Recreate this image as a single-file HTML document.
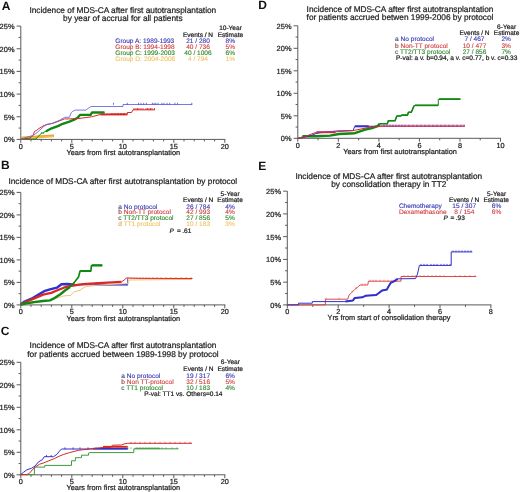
<!DOCTYPE html>
<html><head><meta charset="utf-8"><style>
html,body{margin:0;padding:0;background:#fff;width:520px;height:492px;overflow:hidden}
svg{display:block;filter:blur(0.3px)}
text{font-family:"Liberation Sans", sans-serif;text-rendering:geometricPrecision}
</style></head><body>
<svg width="520" height="492" viewBox="0 0 520 492">
<rect width="520" height="492" fill="#fff"/>
<line x1="20.80" y1="26.10" x2="20.80" y2="139.90" stroke="#5a5a5a" stroke-width="1"/>
<line x1="20.30" y1="139.40" x2="225.30" y2="139.40" stroke="#5a5a5a" stroke-width="1"/>
<line x1="16.60" y1="139.40" x2="20.80" y2="139.40" stroke="#5a5a5a" stroke-width="1"/>
<line x1="18.60" y1="128.07" x2="20.80" y2="128.07" stroke="#5a5a5a" stroke-width="1"/>
<line x1="16.60" y1="116.74" x2="20.80" y2="116.74" stroke="#5a5a5a" stroke-width="1"/>
<line x1="18.60" y1="105.41" x2="20.80" y2="105.41" stroke="#5a5a5a" stroke-width="1"/>
<line x1="16.60" y1="94.08" x2="20.80" y2="94.08" stroke="#5a5a5a" stroke-width="1"/>
<line x1="18.60" y1="82.75" x2="20.80" y2="82.75" stroke="#5a5a5a" stroke-width="1"/>
<line x1="16.60" y1="71.42" x2="20.80" y2="71.42" stroke="#5a5a5a" stroke-width="1"/>
<line x1="18.60" y1="60.09" x2="20.80" y2="60.09" stroke="#5a5a5a" stroke-width="1"/>
<line x1="16.60" y1="48.76" x2="20.80" y2="48.76" stroke="#5a5a5a" stroke-width="1"/>
<line x1="18.60" y1="37.43" x2="20.80" y2="37.43" stroke="#5a5a5a" stroke-width="1"/>
<line x1="16.60" y1="26.10" x2="20.80" y2="26.10" stroke="#5a5a5a" stroke-width="1"/>
<line x1="20.80" y1="139.40" x2="20.80" y2="142.80" stroke="#5a5a5a" stroke-width="1"/>
<line x1="31.00" y1="139.40" x2="31.00" y2="141.40" stroke="#5a5a5a" stroke-width="1"/>
<line x1="41.20" y1="139.40" x2="41.20" y2="141.40" stroke="#5a5a5a" stroke-width="1"/>
<line x1="51.40" y1="139.40" x2="51.40" y2="141.40" stroke="#5a5a5a" stroke-width="1"/>
<line x1="61.60" y1="139.40" x2="61.60" y2="141.40" stroke="#5a5a5a" stroke-width="1"/>
<line x1="71.80" y1="139.40" x2="71.80" y2="142.80" stroke="#5a5a5a" stroke-width="1"/>
<line x1="82.00" y1="139.40" x2="82.00" y2="141.40" stroke="#5a5a5a" stroke-width="1"/>
<line x1="92.20" y1="139.40" x2="92.20" y2="141.40" stroke="#5a5a5a" stroke-width="1"/>
<line x1="102.40" y1="139.40" x2="102.40" y2="141.40" stroke="#5a5a5a" stroke-width="1"/>
<line x1="112.60" y1="139.40" x2="112.60" y2="141.40" stroke="#5a5a5a" stroke-width="1"/>
<line x1="122.80" y1="139.40" x2="122.80" y2="142.80" stroke="#5a5a5a" stroke-width="1"/>
<line x1="133.00" y1="139.40" x2="133.00" y2="141.40" stroke="#5a5a5a" stroke-width="1"/>
<line x1="143.20" y1="139.40" x2="143.20" y2="141.40" stroke="#5a5a5a" stroke-width="1"/>
<line x1="153.40" y1="139.40" x2="153.40" y2="141.40" stroke="#5a5a5a" stroke-width="1"/>
<line x1="163.60" y1="139.40" x2="163.60" y2="141.40" stroke="#5a5a5a" stroke-width="1"/>
<line x1="173.80" y1="139.40" x2="173.80" y2="142.80" stroke="#5a5a5a" stroke-width="1"/>
<line x1="184.00" y1="139.40" x2="184.00" y2="141.40" stroke="#5a5a5a" stroke-width="1"/>
<line x1="194.20" y1="139.40" x2="194.20" y2="141.40" stroke="#5a5a5a" stroke-width="1"/>
<line x1="204.40" y1="139.40" x2="204.40" y2="141.40" stroke="#5a5a5a" stroke-width="1"/>
<line x1="214.60" y1="139.40" x2="214.60" y2="141.40" stroke="#5a5a5a" stroke-width="1"/>
<line x1="224.80" y1="139.40" x2="224.80" y2="142.80" stroke="#5a5a5a" stroke-width="1"/>
<line x1="20.80" y1="192.40" x2="20.80" y2="305.40" stroke="#5a5a5a" stroke-width="1"/>
<line x1="20.30" y1="304.90" x2="225.30" y2="304.90" stroke="#5a5a5a" stroke-width="1"/>
<line x1="16.60" y1="304.90" x2="20.80" y2="304.90" stroke="#5a5a5a" stroke-width="1"/>
<line x1="18.60" y1="293.65" x2="20.80" y2="293.65" stroke="#5a5a5a" stroke-width="1"/>
<line x1="16.60" y1="282.40" x2="20.80" y2="282.40" stroke="#5a5a5a" stroke-width="1"/>
<line x1="18.60" y1="271.15" x2="20.80" y2="271.15" stroke="#5a5a5a" stroke-width="1"/>
<line x1="16.60" y1="259.90" x2="20.80" y2="259.90" stroke="#5a5a5a" stroke-width="1"/>
<line x1="18.60" y1="248.65" x2="20.80" y2="248.65" stroke="#5a5a5a" stroke-width="1"/>
<line x1="16.60" y1="237.40" x2="20.80" y2="237.40" stroke="#5a5a5a" stroke-width="1"/>
<line x1="18.60" y1="226.15" x2="20.80" y2="226.15" stroke="#5a5a5a" stroke-width="1"/>
<line x1="16.60" y1="214.90" x2="20.80" y2="214.90" stroke="#5a5a5a" stroke-width="1"/>
<line x1="18.60" y1="203.65" x2="20.80" y2="203.65" stroke="#5a5a5a" stroke-width="1"/>
<line x1="16.60" y1="192.40" x2="20.80" y2="192.40" stroke="#5a5a5a" stroke-width="1"/>
<line x1="20.80" y1="304.90" x2="20.80" y2="308.30" stroke="#5a5a5a" stroke-width="1"/>
<line x1="31.00" y1="304.90" x2="31.00" y2="306.90" stroke="#5a5a5a" stroke-width="1"/>
<line x1="41.20" y1="304.90" x2="41.20" y2="306.90" stroke="#5a5a5a" stroke-width="1"/>
<line x1="51.40" y1="304.90" x2="51.40" y2="306.90" stroke="#5a5a5a" stroke-width="1"/>
<line x1="61.60" y1="304.90" x2="61.60" y2="306.90" stroke="#5a5a5a" stroke-width="1"/>
<line x1="71.80" y1="304.90" x2="71.80" y2="308.30" stroke="#5a5a5a" stroke-width="1"/>
<line x1="82.00" y1="304.90" x2="82.00" y2="306.90" stroke="#5a5a5a" stroke-width="1"/>
<line x1="92.20" y1="304.90" x2="92.20" y2="306.90" stroke="#5a5a5a" stroke-width="1"/>
<line x1="102.40" y1="304.90" x2="102.40" y2="306.90" stroke="#5a5a5a" stroke-width="1"/>
<line x1="112.60" y1="304.90" x2="112.60" y2="306.90" stroke="#5a5a5a" stroke-width="1"/>
<line x1="122.80" y1="304.90" x2="122.80" y2="308.30" stroke="#5a5a5a" stroke-width="1"/>
<line x1="133.00" y1="304.90" x2="133.00" y2="306.90" stroke="#5a5a5a" stroke-width="1"/>
<line x1="143.20" y1="304.90" x2="143.20" y2="306.90" stroke="#5a5a5a" stroke-width="1"/>
<line x1="153.40" y1="304.90" x2="153.40" y2="306.90" stroke="#5a5a5a" stroke-width="1"/>
<line x1="163.60" y1="304.90" x2="163.60" y2="306.90" stroke="#5a5a5a" stroke-width="1"/>
<line x1="173.80" y1="304.90" x2="173.80" y2="308.30" stroke="#5a5a5a" stroke-width="1"/>
<line x1="184.00" y1="304.90" x2="184.00" y2="306.90" stroke="#5a5a5a" stroke-width="1"/>
<line x1="194.20" y1="304.90" x2="194.20" y2="306.90" stroke="#5a5a5a" stroke-width="1"/>
<line x1="204.40" y1="304.90" x2="204.40" y2="306.90" stroke="#5a5a5a" stroke-width="1"/>
<line x1="214.60" y1="304.90" x2="214.60" y2="306.90" stroke="#5a5a5a" stroke-width="1"/>
<line x1="224.80" y1="304.90" x2="224.80" y2="308.30" stroke="#5a5a5a" stroke-width="1"/>
<line x1="20.80" y1="362.30" x2="20.80" y2="475.30" stroke="#5a5a5a" stroke-width="1"/>
<line x1="20.30" y1="474.80" x2="225.30" y2="474.80" stroke="#5a5a5a" stroke-width="1"/>
<line x1="16.60" y1="474.80" x2="20.80" y2="474.80" stroke="#5a5a5a" stroke-width="1"/>
<line x1="18.60" y1="463.55" x2="20.80" y2="463.55" stroke="#5a5a5a" stroke-width="1"/>
<line x1="16.60" y1="452.30" x2="20.80" y2="452.30" stroke="#5a5a5a" stroke-width="1"/>
<line x1="18.60" y1="441.05" x2="20.80" y2="441.05" stroke="#5a5a5a" stroke-width="1"/>
<line x1="16.60" y1="429.80" x2="20.80" y2="429.80" stroke="#5a5a5a" stroke-width="1"/>
<line x1="18.60" y1="418.55" x2="20.80" y2="418.55" stroke="#5a5a5a" stroke-width="1"/>
<line x1="16.60" y1="407.30" x2="20.80" y2="407.30" stroke="#5a5a5a" stroke-width="1"/>
<line x1="18.60" y1="396.05" x2="20.80" y2="396.05" stroke="#5a5a5a" stroke-width="1"/>
<line x1="16.60" y1="384.80" x2="20.80" y2="384.80" stroke="#5a5a5a" stroke-width="1"/>
<line x1="18.60" y1="373.55" x2="20.80" y2="373.55" stroke="#5a5a5a" stroke-width="1"/>
<line x1="16.60" y1="362.30" x2="20.80" y2="362.30" stroke="#5a5a5a" stroke-width="1"/>
<line x1="20.80" y1="474.80" x2="20.80" y2="478.20" stroke="#5a5a5a" stroke-width="1"/>
<line x1="31.00" y1="474.80" x2="31.00" y2="476.80" stroke="#5a5a5a" stroke-width="1"/>
<line x1="41.20" y1="474.80" x2="41.20" y2="476.80" stroke="#5a5a5a" stroke-width="1"/>
<line x1="51.40" y1="474.80" x2="51.40" y2="476.80" stroke="#5a5a5a" stroke-width="1"/>
<line x1="61.60" y1="474.80" x2="61.60" y2="476.80" stroke="#5a5a5a" stroke-width="1"/>
<line x1="71.80" y1="474.80" x2="71.80" y2="478.20" stroke="#5a5a5a" stroke-width="1"/>
<line x1="82.00" y1="474.80" x2="82.00" y2="476.80" stroke="#5a5a5a" stroke-width="1"/>
<line x1="92.20" y1="474.80" x2="92.20" y2="476.80" stroke="#5a5a5a" stroke-width="1"/>
<line x1="102.40" y1="474.80" x2="102.40" y2="476.80" stroke="#5a5a5a" stroke-width="1"/>
<line x1="112.60" y1="474.80" x2="112.60" y2="476.80" stroke="#5a5a5a" stroke-width="1"/>
<line x1="122.80" y1="474.80" x2="122.80" y2="478.20" stroke="#5a5a5a" stroke-width="1"/>
<line x1="133.00" y1="474.80" x2="133.00" y2="476.80" stroke="#5a5a5a" stroke-width="1"/>
<line x1="143.20" y1="474.80" x2="143.20" y2="476.80" stroke="#5a5a5a" stroke-width="1"/>
<line x1="153.40" y1="474.80" x2="153.40" y2="476.80" stroke="#5a5a5a" stroke-width="1"/>
<line x1="163.60" y1="474.80" x2="163.60" y2="476.80" stroke="#5a5a5a" stroke-width="1"/>
<line x1="173.80" y1="474.80" x2="173.80" y2="478.20" stroke="#5a5a5a" stroke-width="1"/>
<line x1="184.00" y1="474.80" x2="184.00" y2="476.80" stroke="#5a5a5a" stroke-width="1"/>
<line x1="194.20" y1="474.80" x2="194.20" y2="476.80" stroke="#5a5a5a" stroke-width="1"/>
<line x1="204.40" y1="474.80" x2="204.40" y2="476.80" stroke="#5a5a5a" stroke-width="1"/>
<line x1="214.60" y1="474.80" x2="214.60" y2="476.80" stroke="#5a5a5a" stroke-width="1"/>
<line x1="224.80" y1="474.80" x2="224.80" y2="478.20" stroke="#5a5a5a" stroke-width="1"/>
<line x1="297.80" y1="25.80" x2="297.80" y2="138.80" stroke="#5a5a5a" stroke-width="1"/>
<line x1="297.30" y1="138.30" x2="501.00" y2="138.30" stroke="#5a5a5a" stroke-width="1"/>
<line x1="293.60" y1="138.30" x2="297.80" y2="138.30" stroke="#5a5a5a" stroke-width="1"/>
<line x1="295.60" y1="127.05" x2="297.80" y2="127.05" stroke="#5a5a5a" stroke-width="1"/>
<line x1="293.60" y1="115.80" x2="297.80" y2="115.80" stroke="#5a5a5a" stroke-width="1"/>
<line x1="295.60" y1="104.55" x2="297.80" y2="104.55" stroke="#5a5a5a" stroke-width="1"/>
<line x1="293.60" y1="93.30" x2="297.80" y2="93.30" stroke="#5a5a5a" stroke-width="1"/>
<line x1="295.60" y1="82.05" x2="297.80" y2="82.05" stroke="#5a5a5a" stroke-width="1"/>
<line x1="293.60" y1="70.80" x2="297.80" y2="70.80" stroke="#5a5a5a" stroke-width="1"/>
<line x1="295.60" y1="59.55" x2="297.80" y2="59.55" stroke="#5a5a5a" stroke-width="1"/>
<line x1="293.60" y1="48.30" x2="297.80" y2="48.30" stroke="#5a5a5a" stroke-width="1"/>
<line x1="295.60" y1="37.05" x2="297.80" y2="37.05" stroke="#5a5a5a" stroke-width="1"/>
<line x1="293.60" y1="25.80" x2="297.80" y2="25.80" stroke="#5a5a5a" stroke-width="1"/>
<line x1="297.80" y1="138.30" x2="297.80" y2="141.70" stroke="#5a5a5a" stroke-width="1"/>
<line x1="318.07" y1="138.30" x2="318.07" y2="140.30" stroke="#5a5a5a" stroke-width="1"/>
<line x1="338.34" y1="138.30" x2="338.34" y2="141.70" stroke="#5a5a5a" stroke-width="1"/>
<line x1="358.61" y1="138.30" x2="358.61" y2="140.30" stroke="#5a5a5a" stroke-width="1"/>
<line x1="378.88" y1="138.30" x2="378.88" y2="141.70" stroke="#5a5a5a" stroke-width="1"/>
<line x1="399.15" y1="138.30" x2="399.15" y2="140.30" stroke="#5a5a5a" stroke-width="1"/>
<line x1="419.42" y1="138.30" x2="419.42" y2="141.70" stroke="#5a5a5a" stroke-width="1"/>
<line x1="439.69" y1="138.30" x2="439.69" y2="140.30" stroke="#5a5a5a" stroke-width="1"/>
<line x1="459.96" y1="138.30" x2="459.96" y2="141.70" stroke="#5a5a5a" stroke-width="1"/>
<line x1="480.23" y1="138.30" x2="480.23" y2="140.30" stroke="#5a5a5a" stroke-width="1"/>
<line x1="500.50" y1="138.30" x2="500.50" y2="141.70" stroke="#5a5a5a" stroke-width="1"/>
<line x1="287.30" y1="191.15" x2="287.30" y2="305.40" stroke="#5a5a5a" stroke-width="1"/>
<line x1="286.80" y1="304.90" x2="491.40" y2="304.90" stroke="#5a5a5a" stroke-width="1"/>
<line x1="283.10" y1="304.90" x2="287.30" y2="304.90" stroke="#5a5a5a" stroke-width="1"/>
<line x1="285.10" y1="293.52" x2="287.30" y2="293.52" stroke="#5a5a5a" stroke-width="1"/>
<line x1="283.10" y1="282.15" x2="287.30" y2="282.15" stroke="#5a5a5a" stroke-width="1"/>
<line x1="285.10" y1="270.77" x2="287.30" y2="270.77" stroke="#5a5a5a" stroke-width="1"/>
<line x1="283.10" y1="259.40" x2="287.30" y2="259.40" stroke="#5a5a5a" stroke-width="1"/>
<line x1="285.10" y1="248.02" x2="287.30" y2="248.02" stroke="#5a5a5a" stroke-width="1"/>
<line x1="283.10" y1="236.65" x2="287.30" y2="236.65" stroke="#5a5a5a" stroke-width="1"/>
<line x1="285.10" y1="225.27" x2="287.30" y2="225.27" stroke="#5a5a5a" stroke-width="1"/>
<line x1="283.10" y1="213.90" x2="287.30" y2="213.90" stroke="#5a5a5a" stroke-width="1"/>
<line x1="285.10" y1="202.52" x2="287.30" y2="202.52" stroke="#5a5a5a" stroke-width="1"/>
<line x1="283.10" y1="191.15" x2="287.30" y2="191.15" stroke="#5a5a5a" stroke-width="1"/>
<line x1="287.30" y1="304.90" x2="287.30" y2="308.30" stroke="#5a5a5a" stroke-width="1"/>
<line x1="312.75" y1="304.90" x2="312.75" y2="306.90" stroke="#5a5a5a" stroke-width="1"/>
<line x1="338.20" y1="304.90" x2="338.20" y2="308.30" stroke="#5a5a5a" stroke-width="1"/>
<line x1="363.65" y1="304.90" x2="363.65" y2="306.90" stroke="#5a5a5a" stroke-width="1"/>
<line x1="389.10" y1="304.90" x2="389.10" y2="308.30" stroke="#5a5a5a" stroke-width="1"/>
<line x1="414.55" y1="304.90" x2="414.55" y2="306.90" stroke="#5a5a5a" stroke-width="1"/>
<line x1="440.00" y1="304.90" x2="440.00" y2="308.30" stroke="#5a5a5a" stroke-width="1"/>
<line x1="465.45" y1="304.90" x2="465.45" y2="306.90" stroke="#5a5a5a" stroke-width="1"/>
<line x1="490.90" y1="304.90" x2="490.90" y2="308.30" stroke="#5a5a5a" stroke-width="1"/>
<path d="M21,136.9 L40,135.6 L54,134.7 L54,137.3 L40,138.2 L21,139.6 Z" fill="#f2b640" opacity="0.95"/>
<path d="M21.0,137.2 L40.0,135.9 L54.0,135.0" fill="none" stroke="#e89a18" stroke-width="0.9" stroke-linejoin="round" stroke-linecap="butt" opacity="0.9"/>
<path d="M20.8,139.2 L36.0,139.0 L38.0,136.5 L41.2,133.6 L46.0,131.2 L51.7,128.3 L58.5,125.9 L62.7,123.8 L69.4,121.6 L74.2,119.7 L77.6,117.8 L80.0,114.9 L90.6,114.9 L92.0,112.5 L104.5,112.5" fill="none" stroke="#118811" stroke-width="1.0" stroke-linejoin="round" stroke-linecap="butt" opacity="1.0"/>
<path d="M46.0,131.2 L51.7,128.3 L58.5,125.9 L62.7,123.8 L69.4,121.6 L74.2,119.7 L77.6,117.8 L80.0,114.9 L90.6,114.9 L92.0,112.5 L104.5,112.5" fill="none" stroke="#118811" stroke-width="2.4" stroke-linejoin="round" stroke-linecap="butt" opacity="1.0"/>
<path d="M41.5,133.9 v-1.8 M43.5,133.9 v-1.8" stroke="#2a9a5a" stroke-width="0.8" opacity="1.0"/>
<path d="M20.8,139.2 L30.0,138.0 L33.0,135.5 L34.4,131.6 L36.8,130.2 L39.0,128.5 L43.1,125.9 L46.9,124.4 L51.7,123.5 L55.0,122.6 L59.8,120.7 L64.6,118.9 L69.4,118.9 L79.0,118.5 L91.5,116.8 L100.0,114.6 L127.3,114.4 L127.3,112.5 L131.5,112.5 L133.0,109.8 L155.0,109.8" fill="none" stroke="#d82828" stroke-width="1.0" stroke-linejoin="round" stroke-linecap="butt" opacity="1.0"/>
<rect x="100.4" y="113.4" width="26.9" height="2.0" fill="#d82828" opacity="1.0"/>
<path d="M134.0,110.1 v-2.0 M136.0,110.1 v-2.0 M137.5,110.1 v-2.0 M139.0,110.1 v-2.0 M141.0,110.1 v-2.0 M143.0,110.1 v-2.0 M146.0,110.1 v-2.0 M147.5,110.1 v-2.0 M149.0,110.1 v-2.0 M150.5,110.1 v-2.0 M152.0,110.1 v-2.0 M154.5,110.1 v-2.0" stroke="#d82828" stroke-width="0.9" opacity="1.0"/>
<path d="M112.0,114.7 v-1.6 M115.0,114.7 v-1.6 M118.0,114.7 v-1.6 M121.0,114.7 v-1.6 M124.0,114.7 v-1.6" stroke="#b01010" stroke-width="0.9" opacity="1.0"/>
<path d="M20.8,139.2 L26.0,137.5 L32.5,135.5 L36.0,133.5 L39.2,130.7 L44.0,126.3 L47.0,124.6 L52.0,123.5 L55.0,122.1 L59.8,120.2 L64.6,117.3 L69.4,117.3 L71.3,112.5 L72.8,111.3 L75.2,110.1 L85.8,110.1 L89.1,107.7 L91.1,106.5 L123.0,106.5 L123.0,104.5 L192.2,104.5" fill="none" stroke="#6a6ae0" stroke-width="0.9" stroke-linejoin="round" stroke-linecap="butt" opacity="1.0"/>
<path d="M113.5,104.8 v-2.0 M127.3,104.8 v-2.0 M138.5,104.8 v-2.0 M141.0,104.8 v-2.0 M143.7,104.8 v-2.0 M146.3,104.8 v-2.0 M152.4,104.8 v-2.0 M154.1,104.8 v-2.0 M155.8,104.8 v-2.0 M158.0,104.8 v-2.0 M161.9,104.8 v-2.0 M164.0,104.8 v-2.0 M167.0,104.8 v-2.0 M169.7,104.8 v-2.0 M174.9,104.8 v-2.0 M177.5,104.8 v-2.0 M191.8,104.8 v-2.0" stroke="#4a4ad8" stroke-width="0.8" opacity="1.0"/>
<path d="M297.8,138.3 L300.5,138.0 L302.5,136.3 L316.5,136.3 L330.0,135.6 L339.0,134.0 L354.8,133.2 L360.0,131.4 L365.2,129.7 L372.1,128.0 L377.7,126.2 L379.6,123.7 L387.3,123.7 L388.3,120.8 L395.0,120.8 L396.9,116.0 L400.8,116.0 L401.7,115.1 L407.5,115.1 L408.5,112.2 L411.3,112.2 L414.2,105.5 L438.3,105.5 L438.3,99.3 L460.4,99.3" fill="none" stroke="#118811" stroke-width="1.0" stroke-linejoin="round" stroke-linecap="butt" opacity="1.0"/>
<path d="M302.5,136.3 L316.5,136.3 L330.0,135.6 L339.0,134.0 L354.8,133.2 L360.0,131.4 L365.2,129.7 L372.1,128.0 L377.7,126.2 L379.6,123.7" fill="none" stroke="#118811" stroke-width="2.4" stroke-linejoin="round" stroke-linecap="butt" opacity="1.0"/>
<path d="M379.6,123.7 L387.3,123.7 L388.3,120.8 L395.0,120.8 L396.9,116.0 L400.8,116.0 L401.7,115.1 L407.5,115.1 L408.5,112.2 L411.3,112.2 L414.2,105.5" fill="none" stroke="#118811" stroke-width="1.6" stroke-linejoin="round" stroke-linecap="butt" opacity="1.0"/>
<rect x="415.0" y="104.4" width="23.0" height="1.8" fill="#118811" opacity="1.0"/>
<rect x="439.0" y="98.2" width="21.4" height="1.8" fill="#118811" opacity="1.0"/>
<path d="M297.8,138.3 L303.0,137.5 L311.0,135.5 L316.0,133.6 L320.0,132.8 L337.3,130.9 L353.1,130.6 L354.8,126.3 L380.0,126.2 L460.0,126.2" fill="none" stroke="#3030cc" stroke-width="1.0" stroke-linejoin="round" stroke-linecap="butt" opacity="1.0"/>
<rect x="354.8" y="125.3" width="13.9" height="2.0" fill="#3030cc" opacity="1.0"/>
<path d="M297.8,138.3 L303.0,137.6 L311.4,134.0 L316.7,132.2 L335.4,132.2 L337.3,131.6 L353.0,130.6 L370.4,127.1 L380.0,126.4 L465.0,126.4" fill="none" stroke="#d82828" stroke-width="1.0" stroke-linejoin="round" stroke-linecap="butt" opacity="1.0"/>
<rect x="316.7" y="131.2" width="18.7" height="2.0" fill="#c0305a" opacity="1.0"/>
<rect x="380.0" y="124.7" width="85.0" height="1.8" fill="#e07090" opacity="0.8"/>
<path d="M384.0,126.7 v-2.0 M387.0,126.7 v-2.0 M390.0,126.7 v-2.0 M393.0,126.7 v-2.0 M396.0,126.7 v-2.0 M399.0,126.7 v-2.0 M402.0,126.7 v-2.0 M405.0,126.7 v-2.0 M409.0,126.7 v-2.0 M413.0,126.7 v-2.0 M417.0,126.7 v-2.0 M421.0,126.7 v-2.0 M425.0,126.7 v-2.0 M429.0,126.7 v-2.0 M433.0,126.7 v-2.0 M437.0,126.7 v-2.0 M441.0,126.7 v-2.0 M445.0,126.7 v-2.0 M449.0,126.7 v-2.0 M453.0,126.7 v-2.0 M457.0,126.7 v-2.0 M461.0,126.7 v-2.0 M464.0,126.7 v-2.0" stroke="#3030cc" stroke-width="0.9" opacity="0.7"/>
<path d="M20.8,304.5 L24.6,301.5 L31.5,298.7 L38.5,294.6 L44.2,291.2 L50.0,289.4 L56.9,287.7 L61.5,284.2 L67.3,284.0 L75.0,284.8" fill="none" stroke="#3030cc" stroke-width="2.4" stroke-linejoin="round" stroke-linecap="butt" opacity="1.0"/>
<path d="M75.0,284.8 L127.7,284.8 L127.7,278.5" fill="none" stroke="#4848d8" stroke-width="1.0" stroke-linejoin="round" stroke-linecap="butt" opacity="1.0"/>
<rect x="95.0" y="284.1" width="32.7" height="1.4" fill="#4848d8" opacity="1.0"/>
<path d="M20.8,304.9 L30.0,303.6 L40.0,301.6 L50.0,300.6 L56.0,298.5 L63.0,296.0 L70.8,295.3 L73.8,291.9 L80.0,290.4 L83.1,288.0 L86.2,286.5 L100.0,285.0 L127.7,283.5 L129.2,280.0 L176.0,279.5 L192.0,279.5" fill="none" stroke="#f3c27a" stroke-width="1.0" stroke-linejoin="round" stroke-linecap="butt" opacity="1.0"/>
<path d="M20.8,304.5 L26.9,301.5 L35.0,298.1 L43.1,294.6 L51.2,292.9 L58.1,290.0 L63.8,287.7 L69.6,286.0 L83.1,284.2 L98.5,283.2 L112.3,282.4 L121.5,281.8" fill="none" stroke="#d82828" stroke-width="2.3" stroke-linejoin="round" stroke-linecap="butt" opacity="1.0"/>
<path d="M121.5,281.8 L124.6,279.8 L126.2,278.0 L140.0,278.4 L192.5,278.5" fill="none" stroke="#d82828" stroke-width="1.0" stroke-linejoin="round" stroke-linecap="butt" opacity="1.0"/>
<path d="M128.0,278.8 v-1.8 M131.0,278.8 v-1.8 M134.0,278.8 v-1.8 M137.0,278.8 v-1.8 M140.0,278.8 v-1.8 M143.0,278.8 v-1.8 M146.0,278.8 v-1.8 M149.0,278.8 v-1.8 M153.0,278.8 v-1.8 M157.0,278.8 v-1.8 M161.0,278.8 v-1.8 M166.0,278.8 v-1.8 M171.0,278.8 v-1.8 M176.0,278.8 v-1.8 M181.0,278.8 v-1.8 M186.0,278.8 v-1.8 M191.0,278.8 v-1.8" stroke="#e05050" stroke-width="0.8" opacity="0.8"/>
<path d="M20.8,304.5 L26.9,303.3 L33.8,302.1 L43.1,301.0 L50.0,300.4 L54.6,298.0 L60.4,294.2 L65.0,290.5 L70.0,287.0" fill="none" stroke="#118811" stroke-width="2.4" stroke-linejoin="round" stroke-linecap="butt" opacity="1.0"/>
<path d="M70.0,287.0 L72.3,284.5 L75.4,281.0 L78.5,277.0 L80.0,271.2 L90.8,271.2 L91.5,265.5 L102.3,265.5" fill="none" stroke="#118811" stroke-width="1.7" stroke-linejoin="round" stroke-linecap="butt" opacity="1.0"/>
<rect x="80.5" y="270.0" width="10.3" height="2.0" fill="#118811" opacity="1.0"/>
<rect x="92.0" y="264.2" width="10.3" height="2.2" fill="#118811" opacity="1.0"/>
<path d="M20.8,474.6 L34.4,474.6 L34.4,467.1 L44.8,467.1 L44.8,465.4 L71.5,465.4 L71.5,460.8 L75.4,460.8 L75.4,457.7 L81.5,457.7 L81.5,455.2 L88.5,455.2 L88.5,453.1 L90.0,452.6 L133.8,452.6 L133.8,448.8 L178.5,448.8" fill="none" stroke="#3c9c3c" stroke-width="1.0" stroke-linejoin="round" stroke-linecap="butt" opacity="1.0"/>
<path d="M96.0,449.1 v-1.8 M101.0,449.1 v-1.8 M108.0,449.1 v-1.8 M112.0,449.1 v-1.8 M118.0,449.1 v-1.8 M122.0,449.1 v-1.8 M125.0,449.1 v-1.8 M128.0,449.1 v-1.8 M131.0,449.1 v-1.8 M137.0,449.1 v-1.8 M140.0,449.1 v-1.8 M143.0,449.1 v-1.8 M146.0,449.1 v-1.8 M149.0,449.1 v-1.8 M152.0,449.1 v-1.8 M155.0,449.1 v-1.8 M158.0,449.1 v-1.8 M162.0,449.1 v-1.8 M166.0,449.1 v-1.8 M172.0,449.1 v-1.8 M177.0,449.1 v-1.8" stroke="#3c9c3c" stroke-width="0.8" opacity="0.8"/>
<rect x="135.0" y="447.7" width="25.0" height="1.4" fill="#3c9c3c" opacity="0.7"/>
<path d="M20.8,474.6 L23.5,472.3 L26.9,469.8 L31.5,468.3 L35.0,466.0 L38.5,461.9 L42.5,459.6 L44.2,456.7 L53.5,456.7 L56.9,454.4 L59.2,451.5 L61.5,449.0 L127.7,449.0" fill="none" stroke="#3030cc" stroke-width="1.0" stroke-linejoin="round" stroke-linecap="butt" opacity="1.0"/>
<rect x="93.0" y="447.8" width="34.7" height="1.6" fill="#3030cc" opacity="1.0"/>
<path d="M46.5,457.0 v-2.0 M51.2,457.0 v-2.0 M65.0,449.3 v-2.0 M73.1,449.3 v-2.0 M80.0,449.3 v-2.0 M88.0,449.3 v-2.0" stroke="#3030cc" stroke-width="0.8" opacity="1.0"/>
<path d="M20.8,474.6 L26.9,474.6 L29.2,473.5 L32.7,469.4 L36.2,466.5 L39.6,464.2 L43.1,463.1 L48.8,460.8 L54.6,458.5 L59.2,456.2 L63.8,454.4 L69.6,452.6 L78.5,450.3 L90.8,448.8 L103.0,447.5 L110.8,447.5 L112.3,445.2 L121.5,445.0 L124.6,443.8 L127.7,443.3 L192.0,443.3" fill="none" stroke="#d82828" stroke-width="1.0" stroke-linejoin="round" stroke-linecap="butt" opacity="1.0"/>
<rect x="103.0" y="445.9" width="24.7" height="1.8" fill="#d82828" opacity="1.0"/>
<path d="M131.0,443.6 v-1.8 M135.0,443.6 v-1.8 M140.0,443.6 v-1.8 M145.0,443.6 v-1.8 M150.0,443.6 v-1.8 M155.0,443.6 v-1.8 M160.0,443.6 v-1.8 M165.0,443.6 v-1.8 M170.0,443.6 v-1.8 M175.0,443.6 v-1.8 M180.0,443.6 v-1.8 M185.0,443.6 v-1.8 M190.0,443.6 v-1.8" stroke="#d82828" stroke-width="0.8" opacity="0.8"/>
<path d="M287.3,304.9 L325.4,304.9 L325.4,299.2 L347.7,299.2 L349.2,295.0 L351.5,292.7 L354.6,289.6 L358.5,286.5 L360.0,285.0 L367.7,285.0 L368.5,281.2 L401.0,281.2 L401.0,276.5 L476.2,276.5" fill="none" stroke="#e04848" stroke-width="1.0" stroke-linejoin="round" stroke-linecap="butt" opacity="1.0"/>
<path d="M326.0,299.5 v-1.8 M339.0,299.5 v-1.8 M352.0,292.5 v-1.8 M356.0,288.8 v-1.8 M362.0,285.3 v-1.8 M365.0,285.3 v-1.8 M370.0,281.5 v-1.8 M373.0,281.5 v-1.8 M376.0,281.5 v-1.8 M380.0,281.5 v-1.8 M384.0,281.5 v-1.8 M388.0,281.5 v-1.8 M392.0,281.5 v-1.8 M396.0,281.5 v-1.8 M404.0,276.8 v-1.8 M408.0,276.8 v-1.8 M412.0,276.8 v-1.8 M415.0,276.8 v-1.8 M420.0,276.8 v-1.8 M424.0,276.8 v-1.8 M428.0,276.8 v-1.8 M432.0,276.8 v-1.8 M436.0,276.8 v-1.8 M440.0,276.8 v-1.8 M444.0,276.8 v-1.8 M455.0,276.8 v-1.8 M460.0,276.8 v-1.8 M465.0,276.8 v-1.8 M470.0,276.8 v-1.8 M475.0,276.8 v-1.8" stroke="#e04848" stroke-width="0.8" opacity="0.7"/>
<path d="M287.3,304.9 L298.5,304.9 L298.5,303.2 L312.3,303.2 L312.3,301.6 L345.4,301.6 L353.0,300.4 L354.6,298.1 L362.3,297.3 L365.4,295.8 L376.2,295.0 L379.2,292.7 L382.3,290.4 L386.9,289.6 L388.5,286.5 L390.8,282.7 L393.1,281.9 L397.7,278.8 L415.6,278.6 L417.5,274.0 L419.4,265.4 L451.2,265.4 L451.2,251.9 L472.3,251.9" fill="none" stroke="#3030cc" stroke-width="1.0" stroke-linejoin="round" stroke-linecap="butt" opacity="1.0"/>
<path d="M345.4,301.6 L353.0,300.4 L354.6,298.1 L362.3,297.3 L365.4,295.8 L376.2,295.0 L379.2,292.7 L382.3,290.4 L386.9,289.6 L388.5,286.5 L390.8,282.7 L393.1,281.9 L397.7,278.8" fill="none" stroke="#3030cc" stroke-width="2.0" stroke-linejoin="round" stroke-linecap="butt" opacity="1.0"/>
<path d="M421.0,265.7 v-1.8 M424.0,265.7 v-1.8 M427.0,265.7 v-1.8 M431.0,265.7 v-1.8 M434.0,265.7 v-1.8 M437.0,265.7 v-1.8 M441.0,265.7 v-1.8 M444.0,265.7 v-1.8 M447.0,265.7 v-1.8 M450.0,265.7 v-1.8" stroke="#3030cc" stroke-width="0.9" opacity="0.9"/>
<path d="M453.0,252.2 v-1.8 M456.0,252.2 v-1.8 M459.0,252.2 v-1.8 M462.0,252.2 v-1.8 M465.0,252.2 v-1.8 M468.0,252.2 v-1.8 M471.0,252.2 v-1.8" stroke="#3030cc" stroke-width="0.9" opacity="0.9"/>
<text x="1.7" y="9.7" font-size="12" font-weight="bold" fill="#111">A</text>
<text x="1.1" y="169.3" font-size="12" font-weight="bold" fill="#111">B</text>
<text x="0.7" y="335.4" font-size="12" font-weight="bold" fill="#111">C</text>
<text x="258.2" y="9.2" font-size="12" font-weight="bold" fill="#111">D</text>
<text x="258.2" y="169.7" font-size="12" font-weight="bold" fill="#111">E</text>
<text x="14.5" y="142.25" font-size="7.45" text-anchor="end" fill="#1e1e1e" stroke="#1e1e1e" stroke-width="0.22">0%</text>
<text x="14.5" y="119.59" font-size="7.45" text-anchor="end" fill="#1e1e1e" stroke="#1e1e1e" stroke-width="0.22">5%</text>
<text x="14.5" y="96.93" font-size="7.45" text-anchor="end" fill="#1e1e1e" stroke="#1e1e1e" stroke-width="0.22">10%</text>
<text x="14.5" y="74.27" font-size="7.45" text-anchor="end" fill="#1e1e1e" stroke="#1e1e1e" stroke-width="0.22">15%</text>
<text x="14.5" y="51.61000000000001" font-size="7.45" text-anchor="end" fill="#1e1e1e" stroke="#1e1e1e" stroke-width="0.22">20%</text>
<text x="14.5" y="28.95000000000001" font-size="7.45" text-anchor="end" fill="#1e1e1e" stroke="#1e1e1e" stroke-width="0.22">25%</text>
<text x="20.8" y="148.9" font-size="7.3" text-anchor="middle" fill="#1e1e1e" stroke="#1e1e1e" stroke-width="0.22">0</text>
<text x="71.8" y="148.9" font-size="7.3" text-anchor="middle" fill="#1e1e1e" stroke="#1e1e1e" stroke-width="0.22">5</text>
<text x="122.8" y="148.9" font-size="7.3" text-anchor="middle" fill="#1e1e1e" stroke="#1e1e1e" stroke-width="0.22">10</text>
<text x="173.8" y="148.9" font-size="7.3" text-anchor="middle" fill="#1e1e1e" stroke="#1e1e1e" stroke-width="0.22">15</text>
<text x="224.8" y="148.9" font-size="7.3" text-anchor="middle" fill="#1e1e1e" stroke="#1e1e1e" stroke-width="0.22">20</text>
<text x="122.85" y="13.2" font-size="8.3" text-anchor="middle" fill="#1e1e1e" stroke="#1e1e1e" stroke-width="0.22">Incidence of MDS-CA after first autotransplantation</text>
<text x="122.85" y="21.4" font-size="8.3" text-anchor="middle" fill="#1e1e1e" stroke="#1e1e1e" stroke-width="0.22">by year of accrual for all patients</text>
<text x="123.3" y="154.8" font-size="7.35" text-anchor="middle" fill="#1e1e1e" stroke="#1e1e1e" stroke-width="0.22">Years from first autotransplantation</text>
<text x="230.5" y="30.2" font-size="6.55" text-anchor="middle" fill="#1e1e1e" stroke="#1e1e1e" stroke-width="0.22">10-Year</text>
<text x="198" y="36.6" font-size="6.55" text-anchor="middle" fill="#1e1e1e" stroke="#1e1e1e" stroke-width="0.22">Events / N</text>
<text x="230.4" y="36.6" font-size="6.55" text-anchor="middle" fill="#1e1e1e" stroke="#1e1e1e" stroke-width="0.22">Estimate</text>
<text x="115.3" y="42.5" font-size="6.55" fill="#3434b4" stroke="#3434b4" stroke-width="0.12">Group A: 1989-1993</text>
<text x="198" y="42.5" font-size="6.55" text-anchor="middle" fill="#3434b4" stroke="#3434b4" stroke-width="0.12">21 / 280</text>
<text x="230.3" y="42.5" font-size="6.55" text-anchor="middle" fill="#3434b4" stroke="#3434b4" stroke-width="0.12">8%</text>
<text x="115.3" y="48.65" font-size="6.55" fill="#d23c3c" stroke="#d23c3c" stroke-width="0.12">Group B: 1994-1998</text>
<text x="198" y="48.65" font-size="6.55" text-anchor="middle" fill="#d23c3c" stroke="#d23c3c" stroke-width="0.12">40 / 736</text>
<text x="230.3" y="48.65" font-size="6.55" text-anchor="middle" fill="#d23c3c" stroke="#d23c3c" stroke-width="0.12">5%</text>
<text x="115.3" y="54.8" font-size="6.55" fill="#2a8a2a" stroke="#2a8a2a" stroke-width="0.12">Group C: 1999-2003</text>
<text x="198" y="54.8" font-size="6.55" text-anchor="middle" fill="#2a8a2a" stroke="#2a8a2a" stroke-width="0.12">40 / 1006</text>
<text x="230.3" y="54.8" font-size="6.55" text-anchor="middle" fill="#2a8a2a" stroke="#2a8a2a" stroke-width="0.12">6%</text>
<text x="115.3" y="60.95" font-size="6.55" fill="#f0c266" stroke="#f0c266" stroke-width="0.12">Group D:</text>
<text x="175.2" y="60.95" font-size="6.55" text-anchor="end" fill="#f0c266" stroke="#f0c266" stroke-width="0.12">2004-2006</text>
<text x="198" y="60.95" font-size="6.55" text-anchor="middle" fill="#f0c266" stroke="#f0c266" stroke-width="0.12">4 / 794</text>
<text x="230.3" y="60.95" font-size="6.55" text-anchor="middle" fill="#f0c266" stroke="#f0c266" stroke-width="0.12">1%</text>
<text x="14.5" y="307.75" font-size="7.45" text-anchor="end" fill="#1e1e1e" stroke="#1e1e1e" stroke-width="0.22">0%</text>
<text x="14.5" y="285.25" font-size="7.45" text-anchor="end" fill="#1e1e1e" stroke="#1e1e1e" stroke-width="0.22">5%</text>
<text x="14.5" y="262.75" font-size="7.45" text-anchor="end" fill="#1e1e1e" stroke="#1e1e1e" stroke-width="0.22">10%</text>
<text x="14.5" y="240.24999999999997" font-size="7.45" text-anchor="end" fill="#1e1e1e" stroke="#1e1e1e" stroke-width="0.22">15%</text>
<text x="14.5" y="217.74999999999997" font-size="7.45" text-anchor="end" fill="#1e1e1e" stroke="#1e1e1e" stroke-width="0.22">20%</text>
<text x="14.5" y="195.24999999999997" font-size="7.45" text-anchor="end" fill="#1e1e1e" stroke="#1e1e1e" stroke-width="0.22">25%</text>
<text x="20.8" y="314.4" font-size="7.3" text-anchor="middle" fill="#1e1e1e" stroke="#1e1e1e" stroke-width="0.22">0</text>
<text x="71.8" y="314.4" font-size="7.3" text-anchor="middle" fill="#1e1e1e" stroke="#1e1e1e" stroke-width="0.22">5</text>
<text x="122.8" y="314.4" font-size="7.3" text-anchor="middle" fill="#1e1e1e" stroke="#1e1e1e" stroke-width="0.22">10</text>
<text x="173.8" y="314.4" font-size="7.3" text-anchor="middle" fill="#1e1e1e" stroke="#1e1e1e" stroke-width="0.22">15</text>
<text x="224.8" y="314.4" font-size="7.3" text-anchor="middle" fill="#1e1e1e" stroke="#1e1e1e" stroke-width="0.22">20</text>
<text x="122.8" y="183.5" font-size="8.27" text-anchor="middle" fill="#1e1e1e" stroke="#1e1e1e" stroke-width="0.22">Incidence of MDS-CA after first autotransplantation by protocol</text>
<text x="123.3" y="320.6" font-size="7.35" text-anchor="middle" fill="#1e1e1e" stroke="#1e1e1e" stroke-width="0.22">Years from first autotransplantation</text>
<text x="230.1" y="196.1" font-size="6.55" text-anchor="middle" fill="#1e1e1e" stroke="#1e1e1e" stroke-width="0.22">5-Year</text>
<text x="198.2" y="202.2" font-size="6.55" text-anchor="middle" fill="#1e1e1e" stroke="#1e1e1e" stroke-width="0.22">Events / N</text>
<text x="230.1" y="202.2" font-size="6.55" text-anchor="middle" fill="#1e1e1e" stroke="#1e1e1e" stroke-width="0.22">Estimate</text>
<text x="118.3" y="208.5" font-size="6.55" fill="#3434b4" stroke="#3434b4" stroke-width="0.12"><tspan fill="#34347e" stroke="#34347e">a</tspan> No protocol</text>
<text x="198.2" y="208.5" font-size="6.55" text-anchor="middle" fill="#3434b4" stroke="#3434b4" stroke-width="0.12">26 / 784</text>
<text x="230.1" y="208.5" font-size="6.55" text-anchor="middle" fill="#3434b4" stroke="#3434b4" stroke-width="0.12">4%</text>
<text x="118.3" y="214.45" font-size="6.55" fill="#d23c3c" stroke="#d23c3c" stroke-width="0.12"><tspan fill="#8e3a30" stroke="#8e3a30">b</tspan> Non-TT protocol</text>
<text x="198.2" y="214.45" font-size="6.55" text-anchor="middle" fill="#d23c3c" stroke="#d23c3c" stroke-width="0.12">42 / 993</text>
<text x="230.1" y="214.45" font-size="6.55" text-anchor="middle" fill="#d23c3c" stroke="#d23c3c" stroke-width="0.12">4%</text>
<text x="118.3" y="220.4" font-size="6.55" fill="#2a8a2a" stroke="#2a8a2a" stroke-width="0.12"><tspan fill="#3c563c" stroke="#3c563c">c</tspan> TT2/TT3 protocol</text>
<text x="198.2" y="220.4" font-size="6.55" text-anchor="middle" fill="#2a8a2a" stroke="#2a8a2a" stroke-width="0.12">27 / 856</text>
<text x="230.1" y="220.4" font-size="6.55" text-anchor="middle" fill="#2a8a2a" stroke="#2a8a2a" stroke-width="0.12">5%</text>
<text x="118.3" y="226.35" font-size="6.55" fill="#f0c266" stroke="#f0c266" stroke-width="0.12"><tspan fill="#d8aa60" stroke="#d8aa60">d</tspan> TT1 protocol</text>
<text x="198.2" y="226.35" font-size="6.55" text-anchor="middle" fill="#f0c266" stroke="#f0c266" stroke-width="0.12">10 / 183</text>
<text x="230.1" y="226.35" font-size="6.55" text-anchor="middle" fill="#f0c266" stroke="#f0c266" stroke-width="0.12">3%</text>
<text x="169.6" y="233.2" font-size="6.55" font-weight="bold" font-style="italic" fill="#333">P</text>
<text x="177.0" y="233.2" font-size="6.55" fill="#1e1e1e" stroke="#1e1e1e" stroke-width="0.22">=</text>
<text x="182.2" y="233.2" font-size="6.55" fill="#1e1e1e" stroke="#1e1e1e" stroke-width="0.22">.61</text>
<text x="14.5" y="477.65000000000003" font-size="7.45" text-anchor="end" fill="#1e1e1e" stroke="#1e1e1e" stroke-width="0.22">0%</text>
<text x="14.5" y="455.15000000000003" font-size="7.45" text-anchor="end" fill="#1e1e1e" stroke="#1e1e1e" stroke-width="0.22">5%</text>
<text x="14.5" y="432.65000000000003" font-size="7.45" text-anchor="end" fill="#1e1e1e" stroke="#1e1e1e" stroke-width="0.22">10%</text>
<text x="14.5" y="410.15000000000003" font-size="7.45" text-anchor="end" fill="#1e1e1e" stroke="#1e1e1e" stroke-width="0.22">15%</text>
<text x="14.5" y="387.65000000000003" font-size="7.45" text-anchor="end" fill="#1e1e1e" stroke="#1e1e1e" stroke-width="0.22">20%</text>
<text x="14.5" y="365.15000000000003" font-size="7.45" text-anchor="end" fill="#1e1e1e" stroke="#1e1e1e" stroke-width="0.22">25%</text>
<text x="20.8" y="484.3" font-size="7.3" text-anchor="middle" fill="#1e1e1e" stroke="#1e1e1e" stroke-width="0.22">0</text>
<text x="71.8" y="484.3" font-size="7.3" text-anchor="middle" fill="#1e1e1e" stroke="#1e1e1e" stroke-width="0.22">5</text>
<text x="122.8" y="484.3" font-size="7.3" text-anchor="middle" fill="#1e1e1e" stroke="#1e1e1e" stroke-width="0.22">10</text>
<text x="173.8" y="484.3" font-size="7.3" text-anchor="middle" fill="#1e1e1e" stroke="#1e1e1e" stroke-width="0.22">15</text>
<text x="224.8" y="484.3" font-size="7.3" text-anchor="middle" fill="#1e1e1e" stroke="#1e1e1e" stroke-width="0.22">20</text>
<text x="123.0" y="348.1" font-size="8.3" text-anchor="middle" fill="#1e1e1e" stroke="#1e1e1e" stroke-width="0.22">Incidence of MDS-CA after first autotransplantation</text>
<text x="123.0" y="356.7" font-size="8.3" text-anchor="middle" fill="#1e1e1e" stroke="#1e1e1e" stroke-width="0.22">for patients accrued between 1989-1998 by protocol</text>
<text x="123.3" y="490.2" font-size="7.35" text-anchor="middle" fill="#1e1e1e" stroke="#1e1e1e" stroke-width="0.22">Years from first autotransplantation</text>
<text x="230.4" y="364.4" font-size="6.55" text-anchor="middle" fill="#1e1e1e" stroke="#1e1e1e" stroke-width="0.22">6-Year</text>
<text x="198.4" y="370.6" font-size="6.55" text-anchor="middle" fill="#1e1e1e" stroke="#1e1e1e" stroke-width="0.22">Events / N</text>
<text x="230.2" y="370.6" font-size="6.55" text-anchor="middle" fill="#1e1e1e" stroke="#1e1e1e" stroke-width="0.22">Estimate</text>
<text x="121.3" y="377.5" font-size="6.55" fill="#3434b4" stroke="#3434b4" stroke-width="0.12"><tspan fill="#34347e" stroke="#34347e">a</tspan> No protocol</text>
<text x="198.2" y="377.5" font-size="6.55" text-anchor="middle" fill="#3434b4" stroke="#3434b4" stroke-width="0.12">19 / 317</text>
<text x="230.2" y="377.5" font-size="6.55" text-anchor="middle" fill="#3434b4" stroke="#3434b4" stroke-width="0.12">6%</text>
<text x="121.3" y="383.85" font-size="6.55" fill="#d23c3c" stroke="#d23c3c" stroke-width="0.12"><tspan fill="#8e3a30" stroke="#8e3a30">b</tspan> Non TT-protocol</text>
<text x="198.2" y="383.85" font-size="6.55" text-anchor="middle" fill="#d23c3c" stroke="#d23c3c" stroke-width="0.12">32 / 516</text>
<text x="230.2" y="383.85" font-size="6.55" text-anchor="middle" fill="#d23c3c" stroke="#d23c3c" stroke-width="0.12">5%</text>
<text x="121.3" y="390.2" font-size="6.55" fill="#2a8a2a" stroke="#2a8a2a" stroke-width="0.12"><tspan fill="#3c563c" stroke="#3c563c">c</tspan> TT1 protocol</text>
<text x="198.2" y="390.2" font-size="6.55" text-anchor="middle" fill="#2a8a2a" stroke="#2a8a2a" stroke-width="0.12">10 / 183</text>
<text x="230.2" y="390.2" font-size="6.55" text-anchor="middle" fill="#2a8a2a" stroke="#2a8a2a" stroke-width="0.12">4%</text>
<text x="144.2" y="396.4" font-size="6.55" fill="#1e1e1e" stroke="#1e1e1e" stroke-width="0.22">P-val: TT1 vs. Others=0.14</text>
<text x="291.5" y="141.15" font-size="7.45" text-anchor="end" fill="#1e1e1e" stroke="#1e1e1e" stroke-width="0.22">0%</text>
<text x="291.5" y="118.65" font-size="7.45" text-anchor="end" fill="#1e1e1e" stroke="#1e1e1e" stroke-width="0.22">5%</text>
<text x="291.5" y="96.15" font-size="7.45" text-anchor="end" fill="#1e1e1e" stroke="#1e1e1e" stroke-width="0.22">10%</text>
<text x="291.5" y="73.65" font-size="7.45" text-anchor="end" fill="#1e1e1e" stroke="#1e1e1e" stroke-width="0.22">15%</text>
<text x="291.5" y="51.15000000000001" font-size="7.45" text-anchor="end" fill="#1e1e1e" stroke="#1e1e1e" stroke-width="0.22">20%</text>
<text x="291.5" y="28.650000000000013" font-size="7.45" text-anchor="end" fill="#1e1e1e" stroke="#1e1e1e" stroke-width="0.22">25%</text>
<text x="297.8" y="147.8" font-size="7.3" text-anchor="middle" fill="#1e1e1e" stroke="#1e1e1e" stroke-width="0.22">0</text>
<text x="338.34000000000003" y="147.8" font-size="7.3" text-anchor="middle" fill="#1e1e1e" stroke="#1e1e1e" stroke-width="0.22">2</text>
<text x="378.88" y="147.8" font-size="7.3" text-anchor="middle" fill="#1e1e1e" stroke="#1e1e1e" stroke-width="0.22">4</text>
<text x="419.42" y="147.8" font-size="7.3" text-anchor="middle" fill="#1e1e1e" stroke="#1e1e1e" stroke-width="0.22">6</text>
<text x="459.96000000000004" y="147.8" font-size="7.3" text-anchor="middle" fill="#1e1e1e" stroke="#1e1e1e" stroke-width="0.22">8</text>
<text x="500.5" y="147.8" font-size="7.3" text-anchor="middle" fill="#1e1e1e" stroke="#1e1e1e" stroke-width="0.22">10</text>
<text x="400.0" y="12.0" font-size="8.3" text-anchor="middle" fill="#1e1e1e" stroke="#1e1e1e" stroke-width="0.22">Incidence of MDS-CA after first autotransplantation</text>
<text x="400.0" y="20.1" font-size="8.3" text-anchor="middle" fill="#1e1e1e" stroke="#1e1e1e" stroke-width="0.22">for patients accrued betwen 1999-2006 by protocol</text>
<text x="400.0" y="153.5" font-size="7.35" text-anchor="middle" fill="#1e1e1e" stroke="#1e1e1e" stroke-width="0.22">Years from first autotransplantation</text>
<text x="506.6" y="29.3" font-size="6.55" text-anchor="middle" fill="#1e1e1e" stroke="#1e1e1e" stroke-width="0.22">6-Year</text>
<text x="474.5" y="35.1" font-size="6.55" text-anchor="middle" fill="#1e1e1e" stroke="#1e1e1e" stroke-width="0.22">Events / N</text>
<text x="506.6" y="35.1" font-size="6.55" text-anchor="middle" fill="#1e1e1e" stroke="#1e1e1e" stroke-width="0.22">Estimate</text>
<text x="395.1" y="41.4" font-size="6.55" fill="#3434b4" stroke="#3434b4" stroke-width="0.12"><tspan fill="#34347e" stroke="#34347e">a</tspan> No protocol</text>
<text x="474.5" y="41.4" font-size="6.55" text-anchor="middle" fill="#3434b4" stroke="#3434b4" stroke-width="0.12">7 / 467</text>
<text x="506.2" y="41.4" font-size="6.55" text-anchor="middle" fill="#3434b4" stroke="#3434b4" stroke-width="0.12">2%</text>
<text x="395.1" y="47.5" font-size="6.55" fill="#d23c3c" stroke="#d23c3c" stroke-width="0.12"><tspan fill="#8e3a30" stroke="#8e3a30">b</tspan> Non-TT protocol</text>
<text x="474.5" y="47.5" font-size="6.55" text-anchor="middle" fill="#d23c3c" stroke="#d23c3c" stroke-width="0.12">10 / 477</text>
<text x="506.2" y="47.5" font-size="6.55" text-anchor="middle" fill="#d23c3c" stroke="#d23c3c" stroke-width="0.12">3%</text>
<text x="395.1" y="53.599999999999994" font-size="6.55" fill="#2a8a2a" stroke="#2a8a2a" stroke-width="0.12"><tspan fill="#3c563c" stroke="#3c563c">c</tspan> TT2/TT3 protocol</text>
<text x="474.5" y="53.599999999999994" font-size="6.55" text-anchor="middle" fill="#2a8a2a" stroke="#2a8a2a" stroke-width="0.12">27 / 856</text>
<text x="506.2" y="53.599999999999994" font-size="6.55" text-anchor="middle" fill="#2a8a2a" stroke="#2a8a2a" stroke-width="0.12">7%</text>
<text x="396" y="59.9" font-size="6.55" fill="#1e1e1e" stroke="#1e1e1e" stroke-width="0.22">P-val: a v. b=0.94, a v. c=0.77, b v. c=0.33</text>
<text x="281.0" y="307.75" font-size="7.45" text-anchor="end" fill="#1e1e1e" stroke="#1e1e1e" stroke-width="0.22">0%</text>
<text x="281.0" y="285.0" font-size="7.45" text-anchor="end" fill="#1e1e1e" stroke="#1e1e1e" stroke-width="0.22">5%</text>
<text x="281.0" y="262.25" font-size="7.45" text-anchor="end" fill="#1e1e1e" stroke="#1e1e1e" stroke-width="0.22">10%</text>
<text x="281.0" y="239.49999999999997" font-size="7.45" text-anchor="end" fill="#1e1e1e" stroke="#1e1e1e" stroke-width="0.22">15%</text>
<text x="281.0" y="216.74999999999997" font-size="7.45" text-anchor="end" fill="#1e1e1e" stroke="#1e1e1e" stroke-width="0.22">20%</text>
<text x="281.0" y="193.99999999999997" font-size="7.45" text-anchor="end" fill="#1e1e1e" stroke="#1e1e1e" stroke-width="0.22">25%</text>
<text x="287.3" y="314.4" font-size="7.3" text-anchor="middle" fill="#1e1e1e" stroke="#1e1e1e" stroke-width="0.22">0</text>
<text x="338.2" y="314.4" font-size="7.3" text-anchor="middle" fill="#1e1e1e" stroke="#1e1e1e" stroke-width="0.22">2</text>
<text x="389.1" y="314.4" font-size="7.3" text-anchor="middle" fill="#1e1e1e" stroke="#1e1e1e" stroke-width="0.22">4</text>
<text x="440.0" y="314.4" font-size="7.3" text-anchor="middle" fill="#1e1e1e" stroke="#1e1e1e" stroke-width="0.22">6</text>
<text x="490.9" y="314.4" font-size="7.3" text-anchor="middle" fill="#1e1e1e" stroke="#1e1e1e" stroke-width="0.22">8</text>
<text x="388.8" y="178.6" font-size="8.3" text-anchor="middle" fill="#1e1e1e" stroke="#1e1e1e" stroke-width="0.22">Incidence of MDS-CA after first autotransplantation</text>
<text x="388.8" y="187.0" font-size="8.3" text-anchor="middle" fill="#1e1e1e" stroke="#1e1e1e" stroke-width="0.22">by consolidation therapy in TT2</text>
<text x="389.0" y="319.9" font-size="7.3" text-anchor="middle" fill="#1e1e1e" stroke="#1e1e1e" stroke-width="0.22">Yrs from start of consolidation therapy</text>
<text x="496.6" y="195.8" font-size="6.55" text-anchor="middle" fill="#1e1e1e" stroke="#1e1e1e" stroke-width="0.22">5-Year</text>
<text x="464.2" y="201.9" font-size="6.55" text-anchor="middle" fill="#1e1e1e" stroke="#1e1e1e" stroke-width="0.22">Events / N</text>
<text x="496.2" y="201.9" font-size="6.55" text-anchor="middle" fill="#1e1e1e" stroke="#1e1e1e" stroke-width="0.22">Estimate</text>
<text x="398.9" y="208.1" font-size="6.55" fill="#3434b4" stroke="#3434b4" stroke-width="0.12">Chemotherapy</text>
<text x="398.9" y="214.1" font-size="6.55" fill="#d23c3c" stroke="#d23c3c" stroke-width="0.12">Dexamethasone</text>
<text x="464.2" y="208.1" font-size="6.55" text-anchor="middle" fill="#3434b4" stroke="#3434b4" stroke-width="0.12">15 / 307</text>
<text x="464.3" y="214.1" font-size="6.55" text-anchor="middle" fill="#d23c3c" stroke="#d23c3c" stroke-width="0.12">8 / 154</text>
<text x="496.5" y="208.1" font-size="6.55" text-anchor="middle" fill="#3434b4" stroke="#3434b4" stroke-width="0.12">6%</text>
<text x="496.5" y="214.1" font-size="6.55" text-anchor="middle" fill="#d23c3c" stroke="#d23c3c" stroke-width="0.12">6%</text>
<text x="443.4" y="220.3" font-size="6.55" font-weight="bold" font-style="italic" fill="#333">P</text>
<text x="450.6" y="220.3" font-size="6.55" fill="#1e1e1e" stroke="#1e1e1e" stroke-width="0.22">=</text>
<text x="455.8" y="220.3" font-size="6.55" fill="#1e1e1e" stroke="#1e1e1e" stroke-width="0.22">.93</text>
</svg></body></html>
